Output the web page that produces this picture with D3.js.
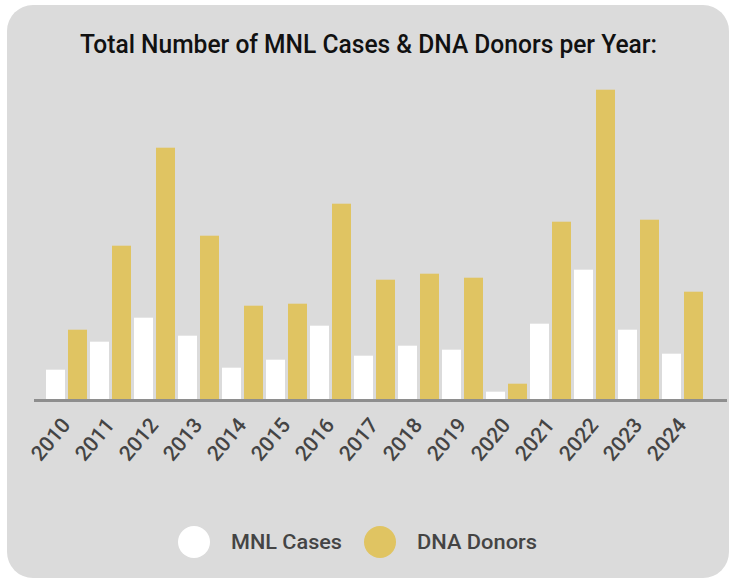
<!DOCTYPE html>
<html>
<head>
<meta charset="utf-8">
<script src="https://cdn.jsdelivr.net/npm/d3@7"></script>
<style>
  body { margin: 0; background: #fff; }
  text { font-family: Roboto, "Noto Sans", sans-serif; }
</style>
</head>
<body>
<div class="chart"></div>
<script>
const years = ['2010','2011','2012','2013','2014','2015','2016','2017','2018','2019','2020','2021','2022','2023','2024'];
const mnlCases = [15, 29, 41, 32, 16, 20, 37, 22, 27, 25, 4, 38, 65, 35, 23];
const dnaDonors = [35, 77, 126, 82, 47, 48, 98, 60, 63, 61, 8, 89, 155, 90, 54];
const seriesNames = ['MNL Cases', 'DNA Donors'];

const width = 730, height = 580;
const colors = d3.scaleOrdinal().domain(seriesNames).range(['#ffffff', '#e0c462']);

const svg = d3.select('.chart').append('svg')
    .attr('width', width)
    .attr('height', height);

// card background
svg.append('rect')
    .attr('x', 7).attr('y', 5)
    .attr('width', 722).attr('height', 573)
    .attr('rx', 26).attr('ry', 26)
    .style('fill', '#dbdbdb');

svg.append('text')
    .attr('x', 80)
    .attr('y', 53)
    .attr('textLength', 577)
    .attr('lengthAdjust', 'spacingAndGlyphs')
    .attr('font-size', 26)
    .attr('font-weight', 500)
    .style('fill', '#111')
    .text('Total Number of MNL Cases & DNA Donors per Year:');

const x0 = d3.scaleBand()
    .domain(years)
    .range([44.5, 44.5 + 44 * years.length]);

const x1 = d3.scaleBand()
    .domain(seriesNames)
    .range([0, x0.bandwidth()])
    .paddingInner(3 / 22)
    .paddingOuter(3 / 44);

const yScale = d3.scaleLinear()
    .domain([0, 160])
    .range([399.7, 79.7]);

const rows = years.map((y, i) => ({year: y, values: [
  {key: 'MNL Cases', value: mnlCases[i]},
  {key: 'DNA Donors', value: dnaDonors[i]}
]}));

const groups = svg.selectAll('g.year')
    .data(rows)
    .enter()
    .append('g')
    .attr('class', 'year')
    .attr('transform', d => `translate(${x0(d.year)},0)`);

groups.selectAll('rect')
    .data(d => d.values)
    .enter()
    .append('rect')
    .attr('x', d => x1(d.key))
    .attr('y', d => yScale(d.value))
    .attr('width', x1.bandwidth())
    .attr('height', d => yScale(0) - yScale(d.value))
    .style('fill', d => colors(d.key));

// baseline
svg.append('line')
    .attr('x1', 34).attr('x2', 727)
    .attr('y1', yScale(0) + 0.8).attr('y2', yScale(0) + 0.8)
    .style('stroke', '#8e8e8e')
    .style('stroke-width', 3);

// x labels
const xAxis = d3.axisBottom(x0).tickSize(0).tickPadding(0);
const ax = svg.append('g')
    .attr('class', 'axis x-axis')
    .attr('transform', `translate(0, ${yScale(0)})`)
    .call(xAxis);
ax.select('.domain').remove();
ax.selectAll('text')
    .attr('font-size', 21)
    .attr('font-weight', 500)
    .style('fill', '#444')
    .attr('text-anchor', 'end')
    .attr('dy', null)
    .attr('y', null)
    .attr('transform', 'translate(5, 26) rotate(-50)');

// legend
const legend = svg.selectAll('g.legend')
    .data(seriesNames)
    .enter()
    .append('g')
    .attr('class', 'legend')
    .attr('transform', (d, i) => `translate(${194 + i * 186}, 542)`);

legend.append('circle')
    .attr('r', 16)
    .style('fill', d => colors(d));

legend.append('text')
    .attr('x', 37)
    .attr('y', 7)
    .attr('font-size', 20)
    .attr('font-weight', 500)
    .attr('textLength', (d, i) => i === 0 ? 111 : 120)
    .attr('lengthAdjust', 'spacingAndGlyphs')
    .style('fill', '#444')
    .text(d => d);
</script>
</body>
</html>
